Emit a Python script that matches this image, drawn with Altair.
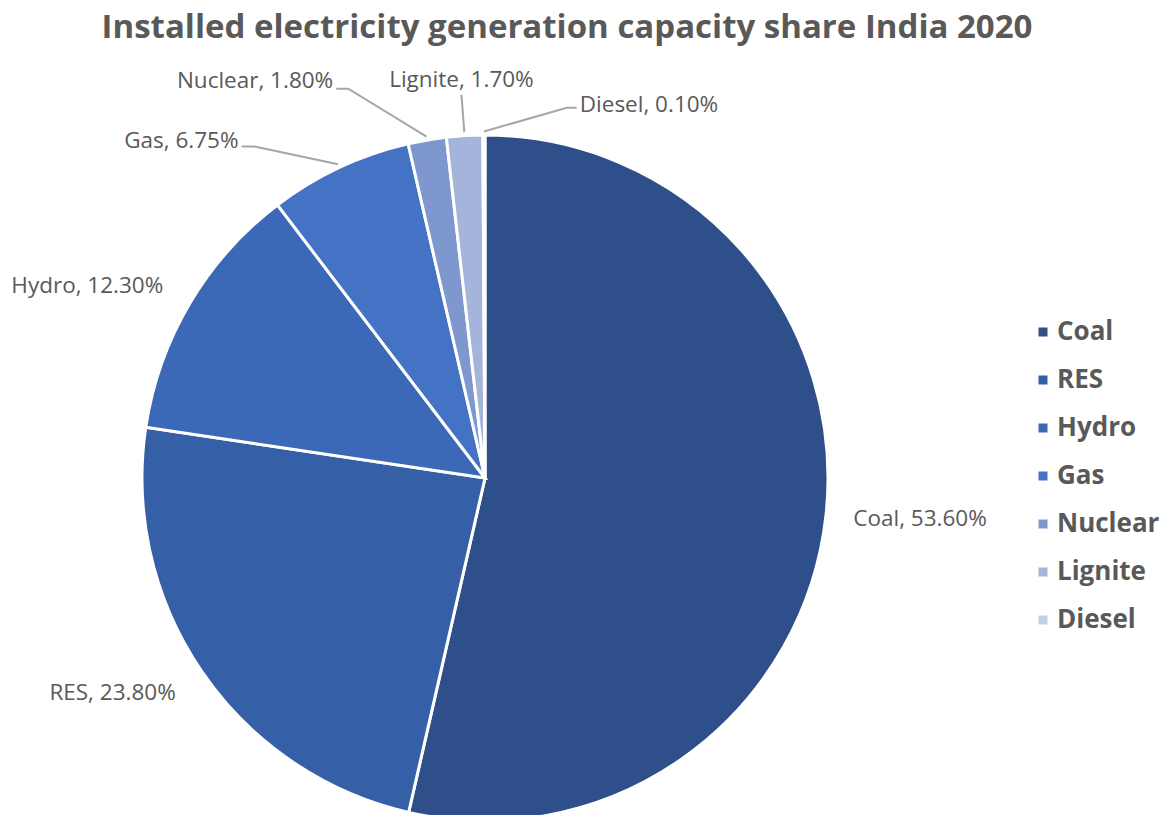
import altair as alt
import pandas as pd
import numpy as np

# ---- data ----
categories = ["Coal", "RES", "Hydro", "Gas", "Nuclear", "Lignite", "Diesel"]
shares = [53.60, 23.80, 12.30, 6.75, 1.80, 1.70, 0.10]
colors = ["#2F4F8B", "#3560A8", "#3B69B8", "#4472C4", "#7F97CF", "#A4B4DB", "#C3CDE8"]

# ---- layout (pixels / label placement) ----
S = 660            # plot area side
R_PX = 343         # pie radius in px
CX, CY = 485, 478  # pie centre on the page
PAD_L = CX - S // 2
PAD_T = CY - S // 2
D = (S / 2) / R_PX  # half-domain in radius units
PX = 1.0 / R_PX     # one pixel in radius units

# nudge (deg), radius, align, text dx px, text dy px (up), elbow px (None = no leader)
label_layout = {
    "Coal":    (-1.0, 1.274, "center", 0, 0, None),
    "RES":     (4.3, 1.254, "center", 0, 0, None),
    "Hydro":   (-4.9, 1.287, "center", 0, 0, None),
    "Gas":     (-11.2, 1.199, "right", -3, 6, 13),
    "Nuclear": (-11.2, 1.215, "right", -3, 8, 12),
    "Lignite": (-0.1, 1.119, "center", 0, 15, 0),
    "Diesel":  (14.1, 1.112, "left", 3, 3, -10),
}

df = pd.DataFrame({"category": categories, "share": shares, "idx": range(len(categories))})
total = df["share"].sum()
start = df["share"].cumsum() - df["share"]
df["mid"] = (start + df["share"] / 2) / total * 360.0
df["label"] = [f"{c}, {v:.2f}%" for c, v in zip(categories, shares)]

rows_text = []
rows_line = []
for _, r in df.iterrows():
    nudge, rad, align, tdx, tdy, elbow = label_layout[r["category"]]
    a = np.deg2rad(r["mid"] + nudge)
    px_, py_ = rad * np.sin(a), rad * np.cos(a)
    rows_text.append({"category": r["category"], "label": r["label"], "align": align,
                      "x": px_ + tdx * PX, "y": py_ + tdy * PX})
    if elbow is not None:
        am = np.deg2rad(r["mid"])
        sx, sy = 1.01 * np.sin(am), 1.01 * np.cos(am)
        ex, ey = px_ + elbow * PX, py_
        for k, (xx, yy) in enumerate([(sx, sy), (ex, ey), (px_, py_)]):
            rows_line.append({"category": r["category"], "k": k, "x": xx, "y": yy})

tdf = pd.DataFrame(rows_text)
ldf = pd.DataFrame(rows_line)

xs = alt.Scale(domain=[-D, D], nice=False, zero=False)
ys = alt.Scale(domain=[-D, D], nice=False, zero=False)

pie = alt.Chart(df).mark_arc(outerRadius=R_PX, stroke="white", strokeWidth=3).encode(
    theta=alt.Theta("share:Q", stack=True),
    order=alt.Order("idx:Q", sort="ascending"),
    color=alt.Color(
        "category:N",
        sort=categories,
        scale=alt.Scale(domain=categories, range=colors),
        legend=alt.Legend(
            orient="none", legendX=1030 - PAD_L, legendY=319 - PAD_T, title=None,
            symbolType="square", symbolSize=81, symbolStrokeWidth=0,
            labelFont="Open Sans", labelFontSize=26, labelFontWeight="bold",
            labelColor="#595959", labelOffset=1, rowPadding=22,
        ),
    ),
)

leaders = alt.Chart(ldf).mark_line(color="#A6A6A6", strokeWidth=2).encode(
    x=alt.X("x:Q", scale=xs, axis=None),
    y=alt.Y("y:Q", scale=ys, axis=None),
    detail="category:N",
    order="k:Q",
)

def text_layer(align):
    return alt.Chart(tdf).transform_filter(alt.datum.align == align).mark_text(
        align=align, baseline="middle", font="Open Sans", fontSize=22.5, color="#595959"
    ).encode(
        x=alt.X("x:Q", scale=xs, axis=None),
        y=alt.Y("y:Q", scale=ys, axis=None),
        text="label:N",
    )

chart = alt.layer(
    pie, leaders, text_layer("center"), text_layer("right"), text_layer("left")
).properties(
    width=S, height=S,
    autosize=alt.AutoSizeParams(type="none"),
    padding={"left": PAD_L, "top": PAD_T, "right": 1169 - PAD_L - S, "bottom": 817 - PAD_T - S - 2},
    title=alt.Title(
        "Installed electricity generation capacity share India 2020",
        font="Open Sans", fontSize=33, fontWeight="bold", color="#595959",
        anchor="middle", dx=82, dy=-20,
    ),
).configure_view(stroke=None)

chart.save("out.html", embed_options={"renderer": "svg", "actions": False})
